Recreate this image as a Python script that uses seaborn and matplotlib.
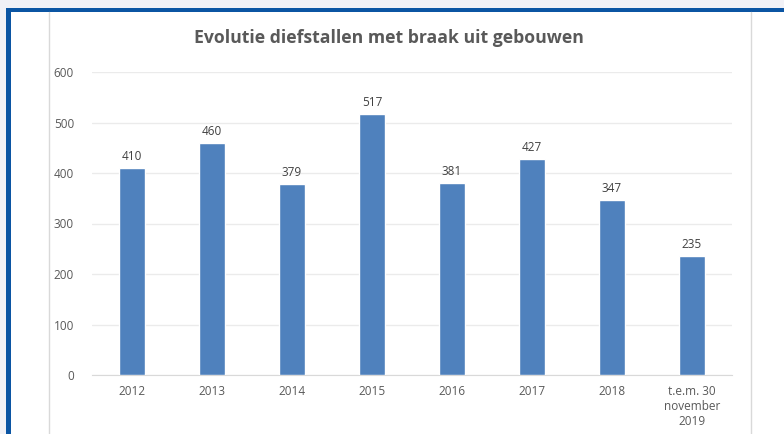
import matplotlib
matplotlib.use("Agg")
import matplotlib.pyplot as plt
import seaborn as sns
import pandas as pd
from matplotlib.patches import Rectangle
from matplotlib.lines import Line2D

# Data
categories = ["2012", "2013", "2014", "2015", "2016", "2017", "2018",
              "t.e.m. 30\nnovember\n2019"]
values = [410, 460, 379, 517, 381, 427, 347, 235]

df = pd.DataFrame({"jaar": categories, "aantal": values})

sns.set_style("white")
plt.rcParams["font.family"] = ["Open Sans", "DejaVu Sans"]

W, H = 784, 434
fig = plt.figure(figsize=(W / 100, H / 100), dpi=100)
fig.patch.set_facecolor("white")

# page background and blue frame
def px_rect(x0, y0, x1, y1, color):
    fig.patches.append(Rectangle((x0 / W, 1 - y1 / H), (x1 - x0) / W, (y1 - y0) / H,
                                 transform=fig.transFigure, facecolor=color,
                                 edgecolor="none", zorder=0))

px_rect(0, 0, W, 8, "#f1f1f6")
px_rect(0, 0, 6, H, "#f1f1f6")
px_rect(6, 8, W, 12, "#0b55a3")
px_rect(6, 8, 11, H, "#0b55a3")
for xl in (49, 751):
    fig.lines.append(Line2D([xl / W, xl / W], [0, 1 - 12 / H], transform=fig.transFigure,
                            color="#d9d9d9", lw=1))

ax = fig.add_axes([92 / W, 1 - 375 / H, 640 / W, 303 / H])
sns.barplot(data=df, x="jaar", y="aantal", color="#4f81bd", width=0.32,
            saturation=1, ax=ax, zorder=3)

ax.set_ylim(0, 600)
ax.set_xlim(-0.5, len(categories) - 0.5)
ax.set_yticks(range(0, 601, 100))
ax.yaxis.grid(True, color="#ebebeb", lw=1)
ax.set_axisbelow(True)
for s in ("top", "right", "left"):
    ax.spines[s].set_visible(False)
ax.spines["bottom"].set_color("#d9d9d9")
ax.set_xlabel("")
ax.set_ylabel("")

ax.tick_params(axis="y", length=0, pad=13, labelsize=8.5, labelcolor="#595959")
ax.set_xticks([i - 0.5 for i in range(len(categories) + 1)], minor=True)
ax.tick_params(axis="x", which="major", length=0, pad=7, labelsize=8.5,
               labelcolor="#595959")
ax.tick_params(axis="x", which="minor", length=5, color="#d9d9d9", direction="out")

for i, v in enumerate(values):
    ax.text(i, v + 10, str(v), ha="center", va="bottom", fontsize=8.5, color="#404040")

fig.text(389 / W, 1 - 38 / H, "Evolutie diefstallen met braak uit gebouwen",
         ha="center", va="center", fontsize=12.7, fontweight="bold", color="#595959")

fig.savefig("out.png", dpi=100)
